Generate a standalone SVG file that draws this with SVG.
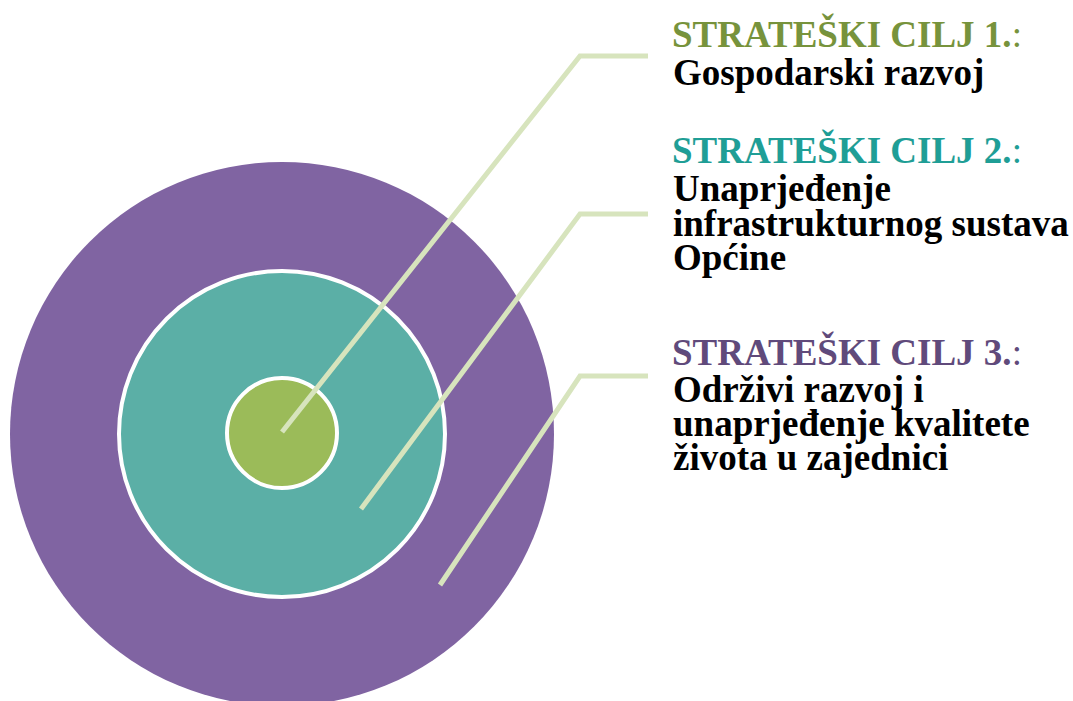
<svg xmlns="http://www.w3.org/2000/svg" width="1073" height="701" viewBox="0 0 1073 701">
<style>
.ring{stroke:#FFFFFF;stroke-width:4}
.conn{fill:none;stroke:#D7E4BD;stroke-width:5;stroke-linejoin:miter}
text{font-family:"Liberation Serif","Times New Roman",serif;font-size:37px;font-weight:bold}
.t1{fill:#77933C}.t2{fill:#1F9E96}.t3{fill:#604A7B}
.body{fill:#000000}
.colon{font-weight:normal}
</style>
<rect width="1073" height="701" fill="#FFFFFF"/>
<g id="outer-circle"><circle cx="282" cy="434" r="272" fill="#8064A2"/></g>
<g id="middle-circle"><circle class="ring" cx="282" cy="434" r="163" fill="#5BAFA6"/></g>
<g id="inner-circle"><circle class="ring" cx="282" cy="433" r="55" fill="#9BBB59"/></g>
<g id="connectors">
<polyline class="conn" points="282,432 580,56 648,56"/>
<polyline class="conn" points="361,509 580,214 648,214"/>
<polyline class="conn" points="440,585 580,376 648,376"/>
</g>
<g id="label-1">
<text x="672" y="47" class="t1">STRATEŠKI CILJ 1.<tspan class="colon">:</tspan></text>
<text x="673" y="85" class="body">Gospodarski razvoj</text>
</g>
<g id="label-2">
<text x="672" y="163" class="t2">STRATEŠKI CILJ 2.<tspan class="colon">:</tspan></text>
<text x="673" y="201" class="body">Unaprjeđenje</text>
<text x="673" y="236" class="body">infrastrukturnog sustava</text>
<text x="673" y="270" class="body">Općine</text>
</g>
<g id="label-3">
<text x="672" y="365" class="t3">STRATEŠKI CILJ 3.<tspan class="colon">:</tspan></text>
<text x="673" y="402" class="body">Održivi razvoj i</text>
<text x="673" y="436" class="body">unaprjeđenje kvalitete</text>
<text x="673" y="470" class="body">života u zajednici</text>
</g>
</svg>
